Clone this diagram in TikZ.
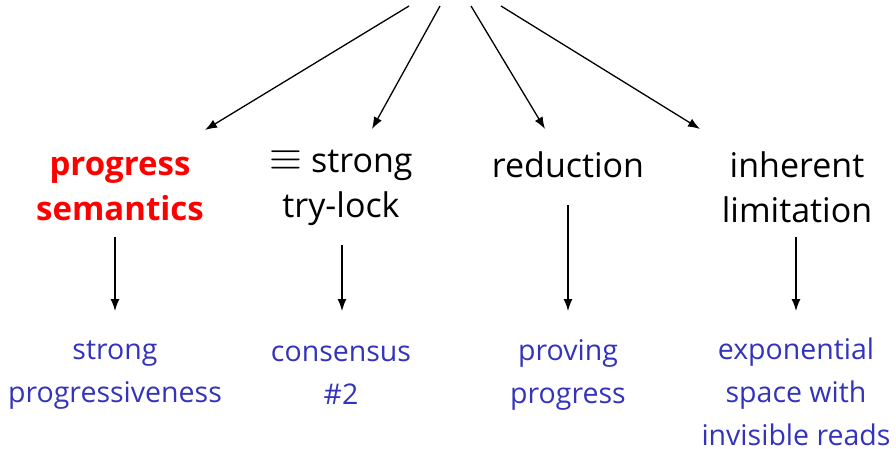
\documentclass[tikz,border=0pt]{standalone}
\usepackage{fontspec}
\usepackage{graphicx}
\setmainfont{Open Sans}
\usetikzlibrary{arrows.meta}
\definecolor{subblue}{RGB}{51,51,187}
\tikzset{
  arr/.style={line width=1.3pt,-{Latex[length=12pt,width=9pt]}},
  top/.style={align=center,font=\fontsize{34}{45}\selectfont,inner sep=0pt},
  sub/.style={align=center,font=\fontsize{28.5}{43}\selectfont,text=subblue,inner sep=0pt}
}
\begin{document}
\begin{tikzpicture}[x=1pt,y=-1pt]
\useasboundingbox (0,0) rectangle (896,448);
% top arrow starts and ends
\coordinate (s1) at (409,6);
\coordinate (s2) at (440,6);
\coordinate (s3) at (471,6);
\coordinate (s4) at (501,6);
\coordinate (e1) at (205,130);
\coordinate (e2) at (372,129);
\coordinate (e3) at (545,129);
\coordinate (e4) at (700,129);
\draw[arr] (s1) -- (e1);
\draw[arr] (s2) -- (e2);
\draw[arr] (s3) -- (e3);
\draw[arr] (s4) -- (e4);
% top labels
\node[top,text=red,font=\fontsize{33}{45}\selectfont\bfseries] (t1) at (120,189) {progress\\semantics};
\node[top] (t2) at (341,188) {\raisebox{0.05em}{\scalebox{1.7}{$\equiv$}} strong\\try-lock};
\node[top] (t3) at (568,165) {reduction};
\node[top] (t4) at (797,187) {inherent\\limitation};
% vertical arrows
\coordinate (v1a) at (115,237);
\coordinate (v1b) at (115,311);
\coordinate (v2a) at (342,245);
\coordinate (v2b) at (342,311);
\coordinate (v3a) at (568,205);
\coordinate (v3b) at (568,311);
\coordinate (v4a) at (796,237);
\coordinate (v4b) at (796,311);
\draw[arr] (v1a) -- (v1b);
\draw[arr] (v2a) -- (v2b);
\draw[arr] (v3a) -- (v3b);
\draw[arr] (v4a) -- (v4b);
% bottom labels
\node[sub] (b1) at (115,375) {strong\\progressiveness};
\node[sub] (b2) at (341,375) {consensus\\\#2};
\node[sub] (b3) at (568,375) {proving\\progress};
\node[sub] (b4) at (796,392) {exponential\\space with\\invisible reads};
\end{tikzpicture}
\end{document}
